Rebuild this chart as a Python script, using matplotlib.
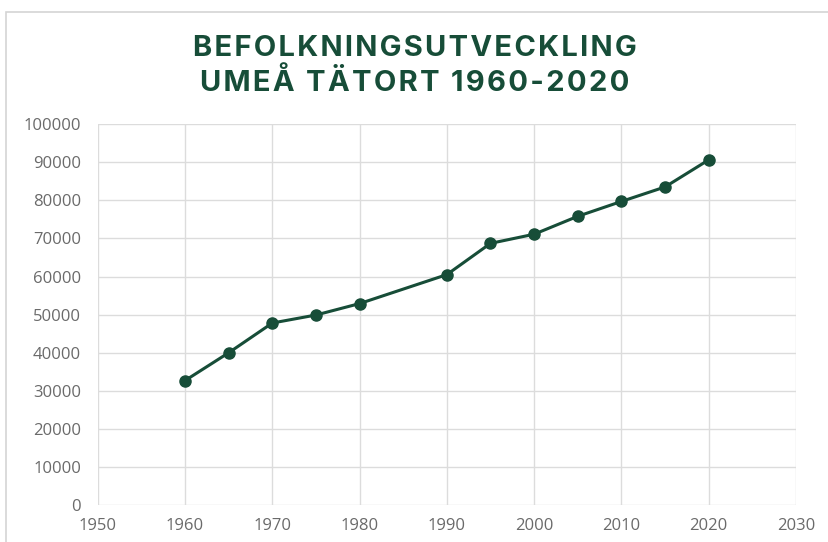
import matplotlib.pyplot as plt
from matplotlib.patches import Rectangle

years = [1960, 1965, 1970, 1975, 1980, 1990, 1995, 2000, 2005, 2010, 2015, 2020]
population = [32700, 40000, 47800, 49900, 52900, 60500, 68700, 71100, 75800, 79700, 83500, 90600]
x_ticks = [1950, 1960, 1970, 1980, 1990, 2000, 2010, 2020, 2030]
y_ticks = [0, 10000, 20000, 30000, 40000, 50000, 60000, 70000, 80000, 90000, 100000]
title_lines = ['BEFOLKNINGSUTVECKLING', 'UMEÅ TÄTORT 1960-2020']

green = '#174d38'
grid_grey = '#dcdcdc'
label_grey = '#6a6a6a'

plt.rcParams['font.family'] = ['Open Sans', 'DejaVu Sans']

fig = plt.figure(figsize=(8.29, 5.42), dpi=100)
fig.patches.append(Rectangle((0.007, -0.01), 1.0, 0.988, transform=fig.transFigure,
                             fill=False, edgecolor='#d4d4d4', linewidth=1.2))

ax = fig.add_axes([0.118, 0.068, 0.842, 0.703])
ax.plot(years, population, color=green, linewidth=2.2, marker='o', markersize=8)

ax.set_xlim(1950, 2030)
ax.set_ylim(0, 100000)
ax.set_xticks(x_ticks)
ax.set_yticks(y_ticks)
ax.grid(True, color=grid_grey, linewidth=1)
ax.set_axisbelow(True)
for s in ax.spines.values():
    s.set_visible(False)
ax.tick_params(length=0, labelsize=12, labelcolor=label_grey)
ax.tick_params(axis='y', pad=12)
ax.tick_params(axis='x', pad=9)

# title with a little letter spacing (hair spaces between letters)
spaced = '\n'.join('\u200a'.join(line) for line in title_lines)
fig.text(0.5, 0.878, spaced, ha='center', va='center', fontsize=21, fontweight='bold',
         color=green, family=['Inter', 'DejaVu Sans'], linespacing=1.3)

plt.savefig('out.png', dpi=100)
